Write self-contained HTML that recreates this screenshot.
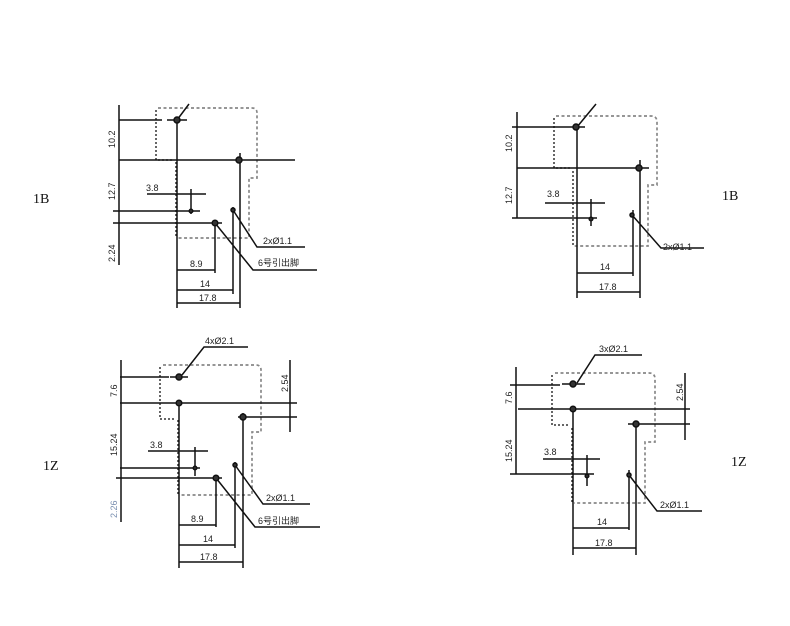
<!DOCTYPE html>
<html><head><meta charset="utf-8"><style>
html,body{margin:0;padding:0;background:#fff}
svg{display:block}
text{font-family:"Liberation Sans","Noto Sans CJK SC",sans-serif;font-size:9px;fill:#222}
.big{font-family:"Liberation Serif",serif;font-size:14px;fill:#111}
.s{stroke:#111;stroke-width:1.5;fill:none}
.d{stroke:#888;stroke-width:1.7;fill:none;stroke-dasharray:3,2.5}
.dk{stroke:#333;stroke-width:1.5;fill:none;stroke-dasharray:2,2}
.p{fill:#333;stroke:#111;stroke-width:1.5}
</style></head><body>
<svg width="790" height="626" viewBox="0 0 790 626" xmlns="http://www.w3.org/2000/svg">
<g>
<path class="d" d="M158 108 H252 Q257 108 257 113 V178 H249 V238 H178"/>
<path class="dk" d="M156 110 V160 H174"/>
<path class="dk" d="M176 162 V238"/>
<path class="s" d="M119 105 V265 M119 120 H162 M167 120 H187 M119 160 H295 M177 120 V308 M240 153 V308
M147 194 H206 M191 189 V214 M113 211 H200 M113 223 H222 M215 223 V273 M233 207 V294
M177 270 H215 M177 290 H233 M177 303 H240
M233 210 L257 247 H305 M215 223 L253 270 H317 M177 120 L189 104"/>
<circle class="p" cx="177" cy="120" r="3"/><circle class="p" cx="239" cy="160" r="3"/>
<circle class="p" cx="215" cy="223" r="2.8"/><circle class="p" cx="233" cy="210" r="2"/><circle class="p" cx="191" cy="211" r="1.8"/>
<text x="146" y="191">3.8</text><text x="190" y="267">8.9</text><text x="200" y="287">14</text><text x="199" y="301">17.8</text>
<text x="263" y="244">2xØ1.1</text><text x="258" y="266">6号引出脚</text>
<text transform="translate(115,148) rotate(-90)">10.2</text>
<text transform="translate(115,200) rotate(-90)">12.7</text>
<text transform="translate(115,262) rotate(-90)">2.24</text>
<text class="big" x="33" y="203">1B</text>
</g>
<g>
<path class="d" d="M556 116 H651 Q657 116 657 122 V185 H648 V246 H574"/>
<path class="dk" d="M554 118 V168 H570"/>
<path class="dk" d="M573 171 V246"/>
<path class="s" d="M517 112 V218 M512 127 H585 M517 168 H649 M577 127 V298 M640 160 V298
M545 203 H605 M591 199 V226 M512 218 H597 M633 210 V276
M577 273 H633 M577 292 H640
M632 215 L661 248 H704 M577 127 L596 104"/>
<circle class="p" cx="576" cy="127" r="3"/><circle class="p" cx="639" cy="168" r="3"/>
<circle class="p" cx="632" cy="215" r="2"/><circle class="p" cx="591" cy="219" r="1.8"/>
<text x="547" y="197">3.8</text><text x="600" y="270">14</text><text x="599" y="290">17.8</text>
<text x="663" y="250">2xØ1.1</text>
<text transform="translate(512,152) rotate(-90)">10.2</text>
<text transform="translate(512,204) rotate(-90)">12.7</text>
<text class="big" x="722" y="200">1B</text>
</g>
<g>
<path class="d" d="M163 365 H256 Q261 365 261 370 V432 H252 V495 H180"/>
<path class="dk" d="M160 367 V419 H174"/>
<path class="dk" d="M178 420 V495"/>
<path class="s" d="M121 360 V522 M120 377 H169 M170 377 H188 M120 403 H297 M179 403 V568 M238 417 H297 M243 413 V568
M290 360 V432 M148 451 H208 M195 447 V476 M120 468 H200 M116 478 H222 M216 478 V527 M235 462 V548
M179 525 H216 M179 545 H235 M179 562 H243
M235 465 L263 504 H310 M216 478 L255 527 H320 M182 375 L204 347 H248"/>
<circle class="p" cx="179" cy="377" r="3"/><circle class="p" cx="179" cy="403" r="2.8"/><circle class="p" cx="243" cy="417" r="3"/>
<circle class="p" cx="216" cy="478" r="2.8"/><circle class="p" cx="235" cy="465" r="2"/><circle class="p" cx="195" cy="468" r="1.8"/>
<text x="150" y="448">3.8</text><text x="191" y="522">8.9</text><text x="203" y="542">14</text><text x="200" y="560">17.8</text>
<text x="205" y="344">4xØ2.1</text><text x="266" y="501">2xØ1.1</text><text x="258" y="524">6号引出脚</text>
<text transform="translate(288,392) rotate(-90)">2.54</text>
<text transform="translate(117,397) rotate(-90)">7.6</text>
<text transform="translate(117,456) rotate(-90)">15.24</text>
<text transform="translate(117,518) rotate(-90)" style="fill:#7a8fb0">2.26</text>
<text class="big" x="43" y="470">1Z</text>
</g>
<g>
<path class="d" d="M555 373 H649 Q655 373 655 379 V442 H645 V503 H574"/>
<path class="dk" d="M552 375 V425 H570"/>
<path class="dk" d="M572 428 V503"/>
<path class="s" d="M516 367 V474 M510 385 H560 M562 384 H585 M518 409 H690 M573 409 V555 M628 424 H690 M636 424 V555
M685 373 V440 M543 459 H600 M587 455 V486 M510 474 H594 M629 470 V530
M573 528 H629 M573 548 H636
M629 475 L657 511 H702 M577 383 L595 355 H642"/>
<circle class="p" cx="573" cy="384" r="3"/><circle class="p" cx="573" cy="409" r="2.8"/><circle class="p" cx="636" cy="424" r="3"/>
<circle class="p" cx="629" cy="475" r="2"/><circle class="p" cx="587" cy="476" r="1.8"/>
<text x="544" y="455">3.8</text><text x="597" y="525">14</text><text x="595" y="546">17.8</text>
<text x="599" y="352">3xØ2.1</text><text x="660" y="508">2xØ1.1</text>
<text transform="translate(683,401) rotate(-90)">2.54</text>
<text transform="translate(512,404) rotate(-90)">7.6</text>
<text transform="translate(512,462) rotate(-90)">15.24</text>
<text class="big" x="731" y="466">1Z</text>
</g>
</svg>
</body></html>
